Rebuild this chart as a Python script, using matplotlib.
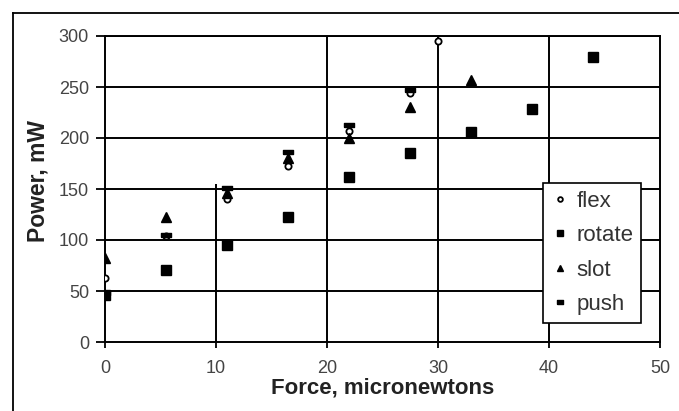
import numpy as np
import matplotlib
matplotlib.use('Agg')
import matplotlib.pyplot as plt
from matplotlib.lines import Line2D

plt.rcParams['font.family'] = ['Liberation Sans', 'DejaVu Sans']

# Data
flex_x = [0, 5.5, 11, 16.5, 22, 27.5, 30]
flex_y = [63, 104, 140, 173, 207, 244, 295]

rotate_x = [0, 5.5, 11, 16.5, 22, 27.5, 33, 38.5, 44]
rotate_y = [46, 71, 95, 123, 162, 185, 206, 228, 279]

slot_x = [0, 5.5, 11, 16.5, 22, 27.5, 33]
slot_y = [82, 123, 146, 180, 200, 230, 257]

push_x = [0, 5.5, 11, 16.5, 22, 27.5]
push_y = [48, 105, 151, 186, 213, 247]

x_ticks = [0, 10, 20, 30, 40, 50]
y_ticks = [0, 50, 100, 150, 200, 250, 300]

fig = plt.figure(figsize=(6.79, 4.11), dpi=100)
ax = fig.add_axes([105/679, 1-342/411, (660-105)/679, (342-36)/411])

# outer frame (left and top edges visible)
fig.add_artist(Line2D([13/679, 13/679], [0, 1-13/411], color='black', lw=1.3))
fig.add_artist(Line2D([13/679, 1], [1-13/411, 1-13/411], color='black', lw=1.3))

# grid
for yv in y_ticks[1:]:
    ax.axhline(yv, color='black', lw=1.4, zorder=1)
for xv in [20, 30, 40]:
    ax.axvline(xv, color='black', lw=1.4, zorder=1)
ax.vlines(10, 0, 155, color='black', lw=1.4, zorder=1)

push_marker = [(-1, -0.45), (1, -0.45), (1, 0.45), (-1, 0.45), (-1, -0.45)]

ax.plot(flex_x, flex_y, linestyle='none', marker='o', ms=4.5, mfc='white', mec='black', mew=1.3, label='flex', zorder=3)
ax.plot(rotate_x, rotate_y, linestyle='none', marker='s', ms=6.5, color='black', label='rotate', zorder=3)
ax.plot(slot_x, slot_y, linestyle='none', marker='^', ms=6.5, color='black', label='slot', zorder=3)
ax.plot(push_x, push_y, linestyle='none', marker=push_marker, ms=6.5, color='black', label='push', zorder=3)

ax.set_xlim(0, 50)
ax.set_ylim(0, 300)
ax.set_xticks(x_ticks)
ax.set_yticks(y_ticks)
ax.tick_params(axis='both', direction='out', width=1.3, color='black',
               labelsize=13, labelcolor='#444444')
ax.tick_params(axis='x', length=4, pad=9)
ax.tick_params(axis='y', length=6.5, pad=5)
for s in ax.spines.values():
    s.set_linewidth(1.4)
    s.set_color('black')

ax.set_xlabel('Force, micronewtons', fontsize=16, fontweight='bold', color='#222222', va='center')
ax.set_ylabel('Power, mW', fontsize=16.5, fontweight='bold', color='#222222', va='center')
ax.xaxis.set_label_coords(0.5, -0.150)
ax.yaxis.set_label_coords(-0.121, 0.526)

leg = ax.legend(loc='upper left', bbox_to_anchor=(0.789, 0.520), frameon=True, fancybox=False,
                edgecolor='black', fontsize=16, handlelength=0.8, handletextpad=0.35,
                labelspacing=0.6, borderpad=0.36, borderaxespad=0, markerscale=0.75,
                framealpha=1)
leg.get_frame().set_linewidth(1.2)
for t in leg.get_texts():
    t.set_color('#333333')

fig.savefig('out.png', dpi=100)
